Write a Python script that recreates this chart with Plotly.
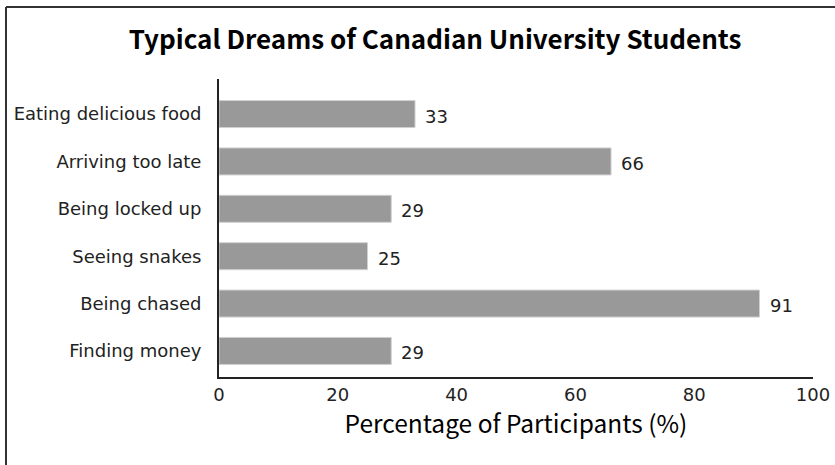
import plotly.graph_objects as go

categories = ["Finding money", "Being chased", "Seeing snakes", "Being locked up",
              "Arriving too late", "Eating delicious food"]
values = [29, 91, 25, 29, 66, 33]
x_ticks = [0, 20, 40, 60, 80, 100]

title_text = "Typical Dreams of Canadian University Students"
x_title = "Percentage of Participants (%)"

W, H = 835, 465
ml, mr, mt, mb = 219, 22, 79, 88

fig = go.Figure()
fig.add_trace(go.Bar(
    x=values, y=categories, orientation="h",
    marker=dict(color="#999999", line=dict(color="#d0d0d0", width=1)),
    width=0.57, hoverinfo="skip",
))

for c, v in zip(categories, values):
    fig.add_annotation(x=v, y=c, text=str(v), showarrow=False,
                       xanchor="left", xshift=8, yshift=-2,
                       font=dict(family="DejaVu Sans", size=18, color="#222"))

pw = W - ml - mr
ph = H - mt - mb
def px(x):
    return (x - ml) / pw
def py(y):
    return 1 - (y - mt) / ph

fig.add_shape(type="line", xref="paper", yref="paper",
              x0=px(6), x1=px(840), y0=py(7), y1=py(7),
              line=dict(color="#333", width=2))
fig.add_shape(type="line", xref="paper", yref="paper",
              x0=px(6), x1=px(6), y0=py(7), y1=py(470),
              line=dict(color="#333", width=2))

fig.update_layout(
    width=W, height=H, autosize=False,
    margin=dict(l=ml, r=mr, t=mt, b=mb, autoexpand=False),
    paper_bgcolor="white", plot_bgcolor="white",
    showlegend=False,
    title=dict(text="<b>" + title_text + "</b>", xref="container", yref="container",
               x=435 / W, xanchor="center", y=1 - 40 / H, yanchor="middle",
               font=dict(family="Noto Sans CJK KR", size=26, color="#000")),
    xaxis=dict(range=[0, 100], tickvals=x_ticks, ticks="", showgrid=False,
               zeroline=False, showline=True, linecolor="#222", linewidth=2,
               tickfont=dict(family="DejaVu Sans", size=18, color="#222"),
               title=dict(text=x_title, standoff=6,
                          font=dict(family="Noto Sans CJK KR", size=24.5, color="#000"))),
    yaxis=dict(range=[-0.55, 5.74], ticks="", showgrid=False, zeroline=False,
               showline=True, linecolor="#222", linewidth=2, ticklabelstandoff=12,
               tickfont=dict(family="DejaVu Sans", size=18, color="#222")),
)

fig.write_html("out.html",
               config=dict(displayModeBar=False, responsive=False),
               post_script="document.body.style.margin='0';document.body.style.overflow='hidden';")
